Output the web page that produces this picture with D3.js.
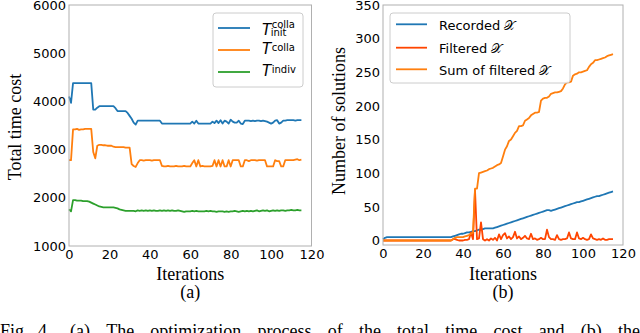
<!DOCTYPE html>
<html>
<head>
<meta charset="utf-8">
<script src="https://cdn.jsdelivr.net/npm/d3@7"></script>
<style>
body { margin: 0; background: #fff; }
svg { display: block; }
.tick text { font-family: "DejaVu Sans"; font-size: 13px; fill: #000; }
.lbl { font-family: "Liberation Serif"; font-size: 18px; fill: #000; }
.leg { font-family: "DejaVu Sans"; font-size: 13px; fill: #000; }
</style>
</head>
<body>
<svg width="640" height="333"></svg>
<script>
// iterations 0..115 for both panels
const iterations = d3.range(0, 116);

const xTicks = [0, 20, 40, 60, 80, 100, 120];
const yTicksA = [1000, 2000, 3000, 4000, 5000, 6000];
const yTicksB = [0, 50, 100, 150, 200, 250, 300, 350];

// (a) total time cost
const tInit = [
  4100, 3970, 4380, 4380, 4380, 4380, 4380, 4380, 4380, 4380,
  4380, 4380, 3830, 3830, 3870, 3900, 3900, 3900, 3900, 3900,
  3900, 3900, 3900, 3860, 3800, 3800, 3800, 3800, 3800, 3760,
  3700, 3640, 3560, 3520, 3600, 3600, 3600, 3600, 3600, 3600,
  3600, 3600, 3600, 3600, 3600, 3600, 3540, 3540, 3540, 3540,
  3540, 3540, 3540, 3540, 3540, 3540, 3540, 3540, 3540, 3540,
  3540, 3580, 3540, 3600, 3540, 3540, 3540, 3540, 3540, 3540,
  3540, 3580, 3550, 3600, 3550, 3610, 3540, 3600, 3580, 3540,
  3620, 3580, 3560, 3560, 3600, 3540, 3530, 3600, 3600, 3600,
  3590, 3600, 3590, 3600, 3600, 3590, 3600, 3590, 3580, 3560,
  3540, 3560, 3600, 3610, 3540, 3560, 3600, 3600, 3610, 3610,
  3610, 3610, 3600, 3610, 3610, 3610
];
const tColla = [
  2780, 2780, 3420, 3420, 3430, 3410, 3420, 3420, 3430, 3430,
  3430, 3430, 2950, 2820, 3080, 3100, 3100, 3090, 3090, 3080,
  3080, 3080, 3060, 3050, 3050, 3050, 3050, 3050, 3040, 3040,
  3040, 2700, 2660, 2640, 2720, 2780, 2780, 2770, 2780, 2780,
  2780, 2770, 2780, 2780, 2780, 2780, 2660, 2650, 2650, 2660,
  2650, 2650, 2650, 2660, 2650, 2650, 2650, 2660, 2650, 2650,
  2650, 2720, 2780, 2650, 2780, 2650, 2660, 2650, 2650, 2650,
  2650, 2660, 2780, 2650, 2780, 2650, 2780, 2650, 2650, 2780,
  2650, 2780, 2780, 2780, 2780, 2650, 2650, 2780, 2780, 2760,
  2780, 2780, 2780, 2770, 2780, 2780, 2780, 2780, 2650, 2650,
  2650, 2650, 2780, 2760, 2760, 2650, 2650, 2780, 2780, 2780,
  2780, 2780, 2790, 2800, 2780, 2790
];
const tIndiv = [
  1760, 1720, 1950, 1950, 1940, 1940, 1940, 1930, 1930, 1930,
  1920, 1900, 1880, 1860, 1840, 1820, 1810, 1800, 1800, 1800,
  1800, 1800, 1800, 1790, 1780, 1760, 1750, 1740, 1730, 1730,
  1730, 1730, 1730, 1720, 1740, 1730, 1740, 1730, 1740, 1730,
  1740, 1730, 1740, 1730, 1730, 1740, 1730, 1740, 1730, 1740,
  1730, 1740, 1730, 1730, 1740, 1730, 1720, 1710, 1720, 1720,
  1720, 1730, 1720, 1730, 1720, 1720, 1720, 1720, 1730, 1720,
  1730, 1720, 1720, 1710, 1720, 1720, 1720, 1710, 1720, 1710,
  1720, 1720, 1730, 1720, 1710, 1720, 1730, 1720, 1730, 1720,
  1730, 1720, 1730, 1740, 1720, 1730, 1740, 1730, 1740, 1720,
  1730, 1740, 1730, 1740, 1730, 1740, 1740, 1730, 1740, 1740,
  1750, 1740, 1740, 1750, 1740, 1740
];

// (b) number of solutions
const recorded = [
  2, 4, 5, 5, 5, 5, 5, 5, 5, 5,
  5, 5, 5, 5, 5, 5, 5, 5, 5, 5,
  5, 5, 5, 5, 5, 5, 5, 5, 5, 5,
  5, 5, 5, 5, 5, 6, 7, 8, 9, 10,
  10, 11, 12, 12, 13, 14, 14, 15, 16, 16,
  17, 18, 18, 18, 18, 18, 19, 20, 21, 22,
  23, 24, 25, 26, 27, 28, 29, 30, 31, 32,
  33, 34, 35, 36, 37, 38, 39, 40, 41, 42,
  43, 44, 45, 45, 44, 45, 46, 47, 48, 49,
  50, 51, 52, 53, 54, 55, 56, 57, 57, 58,
  59, 60, 61, 62, 63, 64, 65, 66, 66, 67,
  68, 69, 70, 71, 72, 73
];
const filtered = [
  0, 0, 0, 0, 0, 0, 0, 0, 0, 0,
  0, 0, 0, 0, 0, 0, 0, 0, 0, 0,
  0, 0, 0, 0, 0, 0, 0, 0, 0, 0,
  0, 0, 0, 0, 0, 2, 2, 1, 0, 0,
  0, 1, 1, 2, 12, 2, 75, 2, 3, 27,
  2, 0, 2, 0, 3, 1, 4, 0, 9, 2,
  8, 11, 3, 6, 2, 5, 13, 3, 6, 2,
  4, 7, 3, 2, 10, 2, 3, 1, 2, 4,
  2, 2, 16, 5, 2, 2, 1, 8, 2, 1,
  2, 2, 3, 12, 3, 2, 2, 12, 3, 2,
  4, 2, 1, 2, 9, 3, 2, 1, 2, 1,
  3, 1, 1, 2, 2, 2
];
const sumFiltered = [
  0, 0, 0, 0, 0, 0, 0, 0, 0, 0,
  0, 0, 0, 0, 0, 0, 0, 0, 0, 0,
  0, 0, 0, 0, 0, 0, 0, 0, 0, 0,
  0, 0, 0, 0, 0, 2, 4, 5, 5, 5,
  5, 6, 7, 8, 10, 12, 77, 77, 100, 101,
  102, 103, 104, 106, 107, 108, 110, 112, 113, 115,
  125, 135, 140, 148, 150, 155, 160, 163, 170, 170,
  171, 178, 180, 182, 186, 188, 190, 190, 191, 208,
  211, 212, 212, 214, 218, 219, 220, 220, 221, 222,
  226, 232, 235, 235, 236, 245, 247, 248, 250, 250,
  251, 252, 253, 258, 262, 264, 268, 268, 269, 270,
  271, 272, 274, 275, 276, 277
];

const blue = "#1f77b4", orange = "#ff7f0e", green = "#2ca02c", red = "#ff4500";

const svg = d3.select("svg");

function drawPanel(xs, ys, yTicks, series, xLab, yLab, yLabPos, tag) {
    const [x0, x1] = xs.range();
    const [y1, y0] = ys.range();

    svg.append("g")
        .attr("transform", `translate(0,${y1})`)
        .call(d3.axisBottom(xs).tickValues(xTicks).tickFormat(d3.format("d"))
            .tickSize(0).tickPadding(4))
        .call(g => g.select(".domain").remove());

    svg.append("g")
        .attr("transform", `translate(${x0},0)`)
        .call(d3.axisLeft(ys).tickValues(yTicks).tickFormat(d3.format("d"))
            .tickSize(0).tickPadding(3))
        .call(g => g.select(".domain").remove());

    const line = d3.line()
        .x((d, i) => xs(iterations[i]))
        .y(d => ys(d));

    series.forEach(s => {
        svg.append("path")
            .datum(s.values)
            .attr("fill", "none")
            .attr("stroke", s.color)
            .attr("stroke-width", 1.8)
            .attr("stroke-linejoin", "round")
            .attr("d", line);
    });

    svg.append("rect")
        .attr("x", x0).attr("y", y0)
        .attr("width", x1 - x0).attr("height", y1 - y0)
        .attr("fill", "none")
        .attr("stroke", "#b0b0b0")
        .attr("stroke-width", 1);

    const cx = (x0 + x1) / 2;
    svg.append("text").attr("class", "lbl")
        .attr("x", cx).attr("y", 280)
        .attr("text-anchor", "middle").text(xLab);
    svg.append("text").attr("class", "lbl")
        .attr("x", cx).attr("y", 298)
        .attr("text-anchor", "middle").text(tag);
    svg.append("text").attr("class", "lbl")
        .attr("transform", `translate(${yLabPos[0]},${yLabPos[1]}) rotate(-90)`)
        .attr("text-anchor", "middle").text(yLab);
}

const xA = d3.scaleLinear().domain([0, 120]).range([69, 311.5]);
const yA = d3.scaleLinear().domain([1000, 6000]).range([246, 5]);
const xB = d3.scaleLinear().domain([0, 120]).range([383, 623]);
const yB = d3.scaleLinear().domain([-6.7, 350]).range([245, 5]);

drawPanel(xA, yA, yTicksA, [
    {values: tInit, color: blue},
    {values: tColla, color: orange},
    {values: tIndiv, color: green}
], "Iterations", "Total time cost", [21, 127], "(a)");

drawPanel(xB, yB, yTicksB, [
    {values: recorded, color: blue},
    {values: filtered, color: red},
    {values: sumFiltered, color: orange}
], "Iterations", "Number of solutions", [345, 121], "(b)");

// legend (a)
svg.append("rect")
    .attr("x", 213).attr("y", 13).attr("width", 90).attr("height", 74)
    .attr("rx", 3).attr("fill", "#fff").attr("fill-opacity", 0.85)
    .attr("stroke", "#cccccc");

const legA = [
    {color: blue, y: 28, base: 35, sup: "colla", supY: 27.6, sub: "init", subY: 36},
    {color: orange, y: 50, base: 54, sup: "colla", supY: 51},
    {color: green, y: 72, base: 75.7, sup: "indiv", supY: 72.6}
];
legA.forEach(d => {
    svg.append("line")
        .attr("x1", 218).attr("x2", 250).attr("y1", d.y).attr("y2", d.y)
        .attr("stroke", d.color).attr("stroke-width", 1.8);
    const t = svg.append("text").attr("class", "leg")
        .attr("x", 262).attr("y", d.base)
        .style("font-size", "15px").style("font-style", "italic")
        .text("T");
    const w = t.node().getComputedTextLength();
    svg.append("text").attr("class", "leg")
        .attr("x", 262 + w + 0.5).attr("y", d.supY)
        .style("font-size", "10px").text(d.sup);
    if (d.sub) {
        svg.append("text").attr("class", "leg")
            .attr("x", 262 + w - 0.5).attr("y", d.subY)
            .style("font-size", "10px").text(d.sub);
    }
});

// legend (b)
svg.append("rect")
    .attr("x", 390).attr("y", 13).attr("width", 180).attr("height", 70)
    .attr("rx", 3).attr("fill", "#fff").attr("fill-opacity", 0.85)
    .attr("stroke", "#cccccc");

const legB = [
    {color: blue, y: 24.3, base: 29.5, label: "Recorded "},
    {color: red, y: 47.7, base: 52.5, label: "Filtered "},
    {color: orange, y: 69.3, base: 74.5, label: "Sum of filtered "}
];
legB.forEach(d => {
    svg.append("line")
        .attr("x1", 396).attr("x2", 427).attr("y1", d.y).attr("y2", d.y)
        .attr("stroke", d.color).attr("stroke-width", 1.8);
    const t = svg.append("text").attr("class", "leg")
        .attr("x", 439).attr("y", d.base);
    t.append("tspan").text(d.label);
    t.append("tspan").style("font-family", "DejaVu Serif").text("\u{1D4B3}");
});

// caption, justified and cut by the bottom edge as in the source
svg.append("text").attr("class", "lbl")
    .attr("x", 0).attr("y", 337).text("Fig.");
svg.append("text").attr("class", "lbl")
    .attr("x", 38).attr("y", 337).text("4.");

const capWords = "(a) The optimization process of the total time cost and (b) the".split(" ");
const cap = svg.append("text").attr("class", "lbl").attr("y", 337);
const spans = capWords.map(w => cap.append("tspan").text(w));
const widths = spans.map(s => s.node().getComputedTextLength());
const gap = (640 - 70 - d3.sum(widths)) / (capWords.length - 1);
let cx = 70;
spans.forEach((s, i) => {
    s.attr("x", cx);
    cx += widths[i] + gap;
});
</script>
</body>
</html>
